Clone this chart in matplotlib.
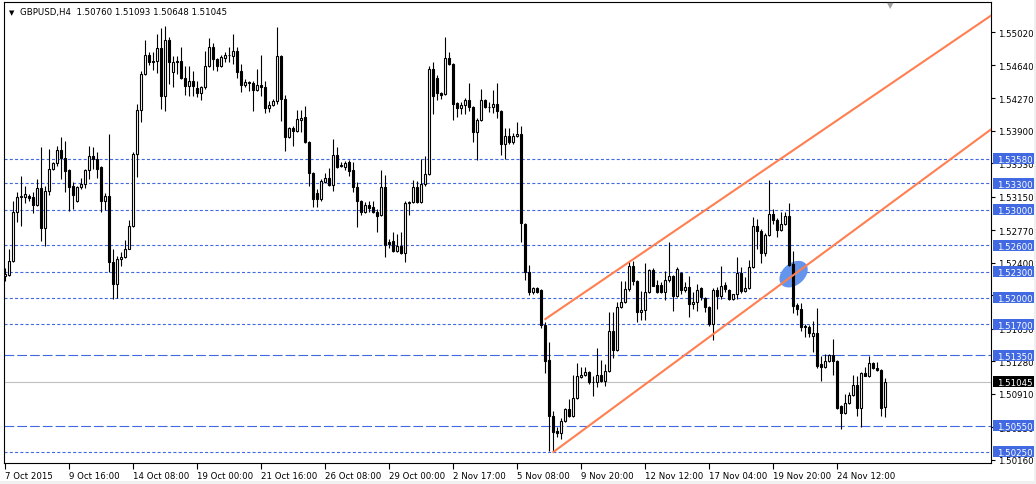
import matplotlib
matplotlib.use('Agg')
import numpy as np
import matplotlib.pyplot as plt
from matplotlib.patches import Ellipse, Rectangle
from matplotlib.transforms import ScaledTranslation, blended_transform_factory

# GBPUSD H4 candles
opens = [
    1.5225, 1.5226, 1.5242, 1.5298, 1.5315, 1.5315, 1.5316, 1.5315, 1.5305, 1.5325,
    1.5279, 1.5321, 1.5346, 1.5353, 1.5368, 1.5359, 1.5345, 1.5327, 1.5310, 1.5326,
    1.5329, 1.5345, 1.5361, 1.5358, 1.5349, 1.5310, 1.5316, 1.5241, 1.5216, 1.5244,
    1.5246, 1.5256, 1.5282, 1.5363, 1.5413, 1.5454, 1.5476, 1.5468, 1.5469, 1.5484,
    1.5429, 1.5493, 1.5457, 1.5469, 1.5469, 1.5450, 1.5441, 1.5446, 1.5438, 1.5433,
    1.5440, 1.5463, 1.5485, 1.5471, 1.5463, 1.5473, 1.5476, 1.5475, 1.5480, 1.5458,
    1.5442, 1.5445, 1.5444, 1.5436, 1.5442, 1.5440, 1.5416, 1.5419, 1.5424, 1.5475,
    1.5426, 1.5383, 1.5393, 1.5390, 1.5402, 1.5405, 1.5377, 1.5342, 1.5319, 1.5312,
    1.5332, 1.5336, 1.5328, 1.5362, 1.5351, 1.5349, 1.5354, 1.5345, 1.5326, 1.5310,
    1.5298, 1.5305, 1.5303, 1.5298, 1.5294, 1.5326, 1.5264, 1.5265, 1.5253, 1.5259,
    1.5251, 1.5308, 1.5309, 1.5326, 1.5309, 1.5329, 1.5341, 1.5460, 1.5450, 1.5433,
    1.5432, 1.5472, 1.5466, 1.5421, 1.5416, 1.5419, 1.5425, 1.5417, 1.5388, 1.5402,
    1.5425, 1.5417, 1.5417, 1.5420, 1.5412, 1.5375, 1.5384, 1.5377, 1.5384, 1.5386,
    1.5284, 1.5230, 1.5207, 1.5211, 1.5209, 1.5169, 1.5129, 1.5066, 1.5049, 1.5047,
    1.5060, 1.5074, 1.5066, 1.5086, 1.5110, 1.5112, 1.5116, 1.5104, 1.5105, 1.5112,
    1.5106, 1.5117, 1.5162, 1.5141, 1.5190, 1.5195, 1.5210, 1.5236, 1.5219, 1.5184,
    1.5186, 1.5207, 1.5232, 1.5215, 1.5215, 1.5207, 1.5220, 1.5225, 1.5202, 1.5228,
    1.5209, 1.5212, 1.5193, 1.5195, 1.5211, 1.5200, 1.5190, 1.5170, 1.5209, 1.5202,
    1.5215, 1.5209, 1.5199, 1.5204, 1.5228, 1.5208, 1.5211, 1.5235, 1.5282, 1.5276,
    1.5251, 1.5272, 1.5295, 1.5288, 1.5277, 1.5284, 1.5293, 1.5238, 1.5192, 1.5187,
    1.5168, 1.5167, 1.5157, 1.5160, 1.5125, 1.5122, 1.5128, 1.5135, 1.5128, 1.5077,
    1.5069, 1.5081, 1.5090, 1.5101, 1.5075, 1.5115, 1.5111, 1.5126, 1.5120, 1.5118,
    1.50760,
]
highs = [
    1.5234, 1.5256, 1.5310, 1.5320, 1.5339, 1.5327, 1.5318, 1.5320, 1.5335, 1.5371,
    1.5327, 1.5369, 1.5354, 1.5373, 1.5383, 1.5378, 1.5346, 1.5332, 1.5327, 1.5336,
    1.5346, 1.5373, 1.5371, 1.5366, 1.5350, 1.5319, 1.5386, 1.5256, 1.5248, 1.5252,
    1.5266, 1.5288, 1.5366, 1.5420, 1.5458, 1.5493, 1.5479, 1.5479, 1.5500, 1.5507,
    1.5509, 1.5496, 1.5475, 1.5475, 1.5485, 1.5463, 1.5463, 1.5458, 1.5446, 1.5441,
    1.5480, 1.5495, 1.5490, 1.5472, 1.5476, 1.5479, 1.5485, 1.5500, 1.5485, 1.5466,
    1.5449, 1.5446, 1.5446, 1.5460, 1.5476, 1.5446, 1.5424, 1.5426, 1.5508, 1.5476,
    1.5430, 1.5394, 1.5395, 1.5413, 1.5414, 1.5418, 1.5378, 1.5343, 1.5324, 1.5335,
    1.5342, 1.5348, 1.5380, 1.5371, 1.5354, 1.5355, 1.5357, 1.5354, 1.5332, 1.5311,
    1.5309, 1.5310, 1.5310, 1.5301, 1.5345, 1.5340, 1.5267, 1.5275, 1.5273, 1.5275,
    1.5310, 1.5310, 1.5334, 1.5333, 1.5358, 1.5361, 1.5463, 1.5468, 1.5453, 1.5434,
    1.5496, 1.5479, 1.5467, 1.5422, 1.5422, 1.5427, 1.5444, 1.5418, 1.5404, 1.5437,
    1.5426, 1.5423, 1.5436, 1.5444, 1.5413, 1.5393, 1.5393, 1.5387, 1.5400, 1.5395,
    1.5285, 1.5237, 1.5212, 1.5212, 1.5210, 1.5173, 1.5150, 1.5071, 1.5053, 1.5064,
    1.5075, 1.5085, 1.5112, 1.5126, 1.5122, 1.5122, 1.5117, 1.5111, 1.5143, 1.5130,
    1.5125, 1.5184, 1.5184, 1.5195, 1.5219, 1.5219, 1.5242, 1.5242, 1.5220, 1.5208,
    1.5240, 1.5233, 1.5234, 1.5220, 1.5218, 1.5231, 1.5264, 1.5226, 1.5235, 1.5229,
    1.5218, 1.5225, 1.5207, 1.5216, 1.5212, 1.5201, 1.5191, 1.5211, 1.5212, 1.5236,
    1.5218, 1.5210, 1.5205, 1.5247, 1.5235, 1.5224, 1.5243, 1.5292, 1.5290, 1.5278,
    1.5274, 1.5334, 1.5301, 1.5291, 1.5298, 1.5298, 1.5308, 1.5253, 1.5194, 1.5194,
    1.5170, 1.5169, 1.5174, 1.5189, 1.5134, 1.5136, 1.5136, 1.5153, 1.5129, 1.5078,
    1.5091, 1.5093, 1.5113, 1.5111, 1.5116, 1.5122, 1.5134, 1.5127, 1.5127, 1.5119,
    1.51093,
]
lows = [
    1.5219, 1.5225, 1.5241, 1.5286, 1.5282, 1.5308, 1.5310, 1.5296, 1.5304, 1.5265,
    1.5259, 1.5317, 1.5345, 1.5350, 1.5335, 1.5320, 1.5299, 1.5301, 1.5309, 1.5324,
    1.5325, 1.5335, 1.5346, 1.5336, 1.5298, 1.5300, 1.5229, 1.5199, 1.5200, 1.5236,
    1.5245, 1.5255, 1.5281, 1.5337, 1.5400, 1.5453, 1.5464, 1.5459, 1.5455, 1.5415,
    1.5412, 1.5443, 1.5440, 1.5454, 1.5449, 1.5430, 1.5429, 1.5429, 1.5428, 1.5425,
    1.5437, 1.5462, 1.5459, 1.5458, 1.5462, 1.5468, 1.5468, 1.5466, 1.5450, 1.5434,
    1.5440, 1.5435, 1.5412, 1.5435, 1.5429, 1.5410, 1.5411, 1.5418, 1.5420, 1.5401,
    1.5367, 1.5382, 1.5373, 1.5389, 1.5389, 1.5376, 1.5327, 1.5303, 1.5303, 1.5310,
    1.5331, 1.5327, 1.5321, 1.5348, 1.5349, 1.5345, 1.5339, 1.5320, 1.5281, 1.5294,
    1.5297, 1.5298, 1.5297, 1.5275, 1.5293, 1.5247, 1.5257, 1.5252, 1.5252, 1.5250,
    1.5241, 1.5294, 1.5308, 1.5308, 1.5308, 1.5327, 1.5340, 1.5409, 1.5425, 1.5426,
    1.5431, 1.5465, 1.5402, 1.5406, 1.5409, 1.5409, 1.5412, 1.5377, 1.5357, 1.5401,
    1.5416, 1.5411, 1.5410, 1.5404, 1.5362, 1.5358, 1.5375, 1.5375, 1.5383, 1.5264,
    1.5220, 1.5203, 1.5204, 1.5206, 1.5166, 1.5115, 1.5026, 1.5025, 1.5042, 1.5040,
    1.5059, 1.5065, 1.5065, 1.5085, 1.5109, 1.5111, 1.5102, 1.5089, 1.5099, 1.5105,
    1.5100, 1.5116, 1.5132, 1.5140, 1.5189, 1.5194, 1.5208, 1.5215, 1.5173, 1.5175,
    1.5175, 1.5206, 1.5213, 1.5206, 1.5206, 1.5198, 1.5218, 1.5185, 1.5201, 1.5204,
    1.5207, 1.5178, 1.5187, 1.5185, 1.5198, 1.5184, 1.5168, 1.5152, 1.5187, 1.5199,
    1.5207, 1.5198, 1.5198, 1.5199, 1.5206, 1.5207, 1.5210, 1.5234, 1.5255, 1.5240,
    1.5248, 1.5270, 1.5284, 1.5269, 1.5276, 1.5283, 1.5236, 1.5183, 1.5181, 1.5162,
    1.5156, 1.5156, 1.5139, 1.5120, 1.5106, 1.5120, 1.5127, 1.5113, 1.5074, 1.5051,
    1.5068, 1.5080, 1.5089, 1.5066, 1.5053, 1.5111, 1.5110, 1.5119, 1.5117, 1.5066,
    1.50648,
]
closes = [
    1.5227, 1.5242, 1.5298, 1.5315, 1.5316, 1.5318, 1.5313, 1.5305, 1.5325, 1.5279,
    1.5321, 1.5346, 1.5353, 1.5368, 1.5359, 1.5344, 1.5326, 1.5317, 1.5326, 1.5329,
    1.5345, 1.5361, 1.5358, 1.5346, 1.5310, 1.5316, 1.5241, 1.5216, 1.5244, 1.5246,
    1.5256, 1.5282, 1.5363, 1.5413, 1.5454, 1.5476, 1.5468, 1.5469, 1.5484, 1.5429,
    1.5493, 1.5468, 1.5468, 1.5468, 1.5450, 1.5441, 1.5446, 1.5441, 1.5433, 1.5440,
    1.5463, 1.5485, 1.5471, 1.5463, 1.5474, 1.5476, 1.5476, 1.5480, 1.5457, 1.5442,
    1.5445, 1.5444, 1.5436, 1.5442, 1.5440, 1.5416, 1.5419, 1.5424, 1.5475, 1.5426,
    1.5383, 1.5393, 1.5390, 1.5403, 1.5404, 1.5377, 1.5342, 1.5312, 1.5312, 1.5333,
    1.5336, 1.5328, 1.5362, 1.5349, 1.5350, 1.5353, 1.5344, 1.5326, 1.5310, 1.5298,
    1.5305, 1.5302, 1.5298, 1.5293, 1.5326, 1.5260, 1.5261, 1.5253, 1.5259, 1.5251,
    1.5308, 1.5309, 1.5326, 1.5309, 1.5329, 1.5341, 1.5460, 1.5429, 1.5433, 1.5431,
    1.5472, 1.5466, 1.5420, 1.5416, 1.5419, 1.5425, 1.5417, 1.5388, 1.5402, 1.5425,
    1.5417, 1.5417, 1.5420, 1.5412, 1.5375, 1.5384, 1.5377, 1.5384, 1.5386, 1.5285,
    1.5230, 1.5207, 1.5211, 1.5207, 1.5169, 1.5128, 1.5066, 1.5048, 1.5047, 1.5060,
    1.5074, 1.5066, 1.5086, 1.5111, 1.5112, 1.5116, 1.5105, 1.5105, 1.5112, 1.5106,
    1.5117, 1.5162, 1.5141, 1.5190, 1.5195, 1.5210, 1.5236, 1.5219, 1.5184, 1.5186,
    1.5207, 1.5232, 1.5214, 1.5207, 1.5207, 1.5220, 1.5225, 1.5202, 1.5233, 1.5209,
    1.5212, 1.5193, 1.5195, 1.5209, 1.5201, 1.5190, 1.5170, 1.5209, 1.5202, 1.5214,
    1.5210, 1.5199, 1.5204, 1.5228, 1.5208, 1.5211, 1.5235, 1.5282, 1.5276, 1.5251,
    1.5272, 1.5295, 1.5288, 1.5277, 1.5284, 1.5293, 1.5237, 1.5191, 1.5187, 1.5167,
    1.5167, 1.5160, 1.5160, 1.5123, 1.5122, 1.5128, 1.5135, 1.5128, 1.5075, 1.5069,
    1.5081, 1.5090, 1.5101, 1.5075, 1.5115, 1.5111, 1.5126, 1.5120, 1.5118, 1.5075,
    1.51045,
]

date_labels = ["7 Oct 2015", "9 Oct 16:00", "14 Oct 08:00", "19 Oct 00:00",
               "21 Oct 16:00", "26 Oct 08:00", "29 Oct 00:00", "2 Nov 17:00",
               "5 Nov 08:00", "9 Nov 20:00", "12 Nov 12:00", "17 Nov 04:00",
               "19 Nov 20:00", "24 Nov 12:00"]
price_ticks = [1.5502, 1.5464, 1.5427, 1.5390, 1.5353, 1.5315, 1.5277,
               1.5240, 1.5203, 1.5165, 1.5128, 1.5091, 1.5053, 1.5016]

dash_levels = [1.5358, 1.5330, 1.5300, 1.5260, 1.5230, 1.5200, 1.5170, 1.5025]
dashdot_levels = [1.5135, 1.5055]

# channel anchors (bar index, price)
upper_bars, upper_prices = [135, 220], [1.5176, 1.5439]
lower_bars, lower_prices = [137, 220], [1.5025, 1.5303]
mark_bar, mark_price = 197.05, 1.5227

BLUE = '#4169E1'
ORANGE = '#FF7F50'

plt.rcParams['font.family'] = 'DejaVu Sans'
plt.rcParams['lines.scale_dashes'] = False
FS = 6.2

W, H = 1036, 485
fig = plt.figure(figsize=(W / 100, H / 100), dpi=100)
fig.patch.set_facecolor('white')
ax = fig.add_axes([4 / W, (H - 464) / H, (991 - 4) / W, (464 - 3) / H])

o = np.array(opens)
h = np.array(highs)
l = np.array(lows)
c = np.array(closes)
x = np.arange(len(o))
up = c >= o

x_left, x_right = -0.33, 246.4
ax.set_xlim(x_left, x_right)
ax.set_ylim(1.50125, 1.55361)

# horizontal levels
for lv in dash_levels:
    ax.axhline(lv, color=BLUE, lw=0.8, ls=(0, (2.2, 1.6)), zorder=1)
for lv in dashdot_levels:
    ax.axhline(lv, color=BLUE, lw=0.8, ls=(0, (7.0, 2.2)), zorder=1)
ax.axhline(c[-1], color='#C0C0C0', lw=0.8, zorder=1)

# highlight ellipse
ell = Ellipse((0, 0), 0.32, 0.22, angle=40, color='#6495ED', lw=0, zorder=2,
              transform=fig.dpi_scale_trans + ScaledTranslation(mark_bar, mark_price, ax.transData))
ax.add_patch(ell)

# candles
ax.vlines(x, l, h, color='black', lw=0.8, zorder=3)
lo = np.minimum(o, c)
ht = np.abs(c - o)
ax.bar(x[up], ht[up], bottom=lo[up], width=0.5, color='white', edgecolor='black', lw=0.8, zorder=4)
ax.bar(x[~up], ht[~up], bottom=lo[~up], width=0.5, color='black', edgecolor='black', lw=0.8, zorder=4)

# channel lines, extended to the right edge
for bars, prices in [(upper_bars, upper_prices), (lower_bars, lower_prices)]:
    slope = (prices[1] - prices[0]) / (bars[1] - bars[0])
    end = prices[0] + slope * (x_right - bars[0])
    ax.plot([bars[0], x_right], [prices[0], end], color=ORANGE, lw=1.5, zorder=5)

# axes
for s in ax.spines.values():
    s.set_color('black')
    s.set_linewidth(0.8)
ax.yaxis.tick_right()
ax.set_yticks(price_ticks)
ax.set_yticklabels([f'{v:.5f}' for v in price_ticks])
ax.tick_params(axis='y', direction='out', length=3, width=0.8, pad=2, labelsize=FS)
ax.set_xticks(range(0, len(o), 16))
ax.set_xticklabels(date_labels, ha='left')
ax.tick_params(axis='x', direction='out', length=4, width=0.8, pad=2, labelsize=FS)

# price labels on the right axis
blend = blended_transform_factory(ax.transAxes, ax.transData)
def price_box(val, face):
    tr = fig.dpi_scale_trans + ScaledTranslation(1.0, val, blend)
    ax.add_patch(Rectangle((0.02, -0.055), 0.42, 0.11, transform=tr, facecolor=face,
                           edgecolor='none', clip_on=False, zorder=10))
    ax.text(0.058, 0.0, f'{val:.5f}', transform=tr, color='white', fontsize=FS,
            ha='left', va='center_baseline', clip_on=False, zorder=11)

for lv in dash_levels + dashdot_levels:
    price_box(lv, BLUE)
price_box(c[-1], 'black')

# header
fig.text(12 / W, 1 - 13 / H, '▼', fontsize=5, ha='center', va='center')
fig.text(20 / W, 1 - 13 / H,
         f'GBPUSD,H4  {o[-1]:.5f} {h[-1]:.5f} {l[-1]:.5f} {c[-1]:.5f}',
         fontsize=FS, ha='left', va='center')
fig.text(890 / W, 1 - 6 / H, '▼', fontsize=6, color='#A0A0A0', ha='center', va='center')

# window frame
fig.patches.append(Rectangle((0, 0), 1, 3 / H, transform=fig.transFigure,
                             facecolor='#F0F0F0', edgecolor='none', zorder=0))
fig.patches.append(Rectangle((1034 / W, 0), 2 / W, 1, transform=fig.transFigure,
                             facecolor='#F0F0F0', edgecolor='none', zorder=0))

plt.savefig('out.png', dpi=100)
